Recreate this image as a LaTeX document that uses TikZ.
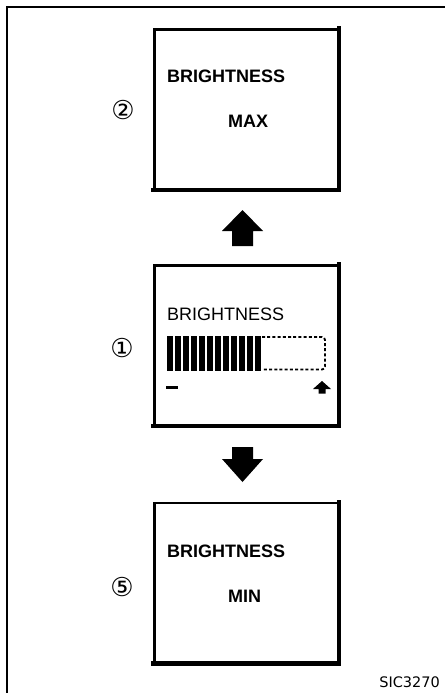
\documentclass[tikz,border=0pt]{standalone}
\usepackage{fontspec}
\setmainfont{Liberation Sans}
\newfontfamily\dejavu{DejaVu Sans}
\begin{document}
\begin{tikzpicture}[x=1pt,y=-1pt,
  screen/.style={draw,line width=2.4pt,minimum width=184pt,minimum height=160pt,inner sep=0pt},
  shadowline/.style={line width=4.4pt,line cap=rect},
  lcd/.style={font=\fontsize{18}{18}\selectfont\bfseries,anchor=base west,inner sep=0pt},
  lcdthin/.style={font=\fontsize{18}{18}\selectfont,anchor=base west,inner sep=0pt},
  num/.style={font=\dejavu\fontsize{26}{26}\selectfont,inner sep=0pt},
  bigarrow/.style={fill=black},
  tag/.style={font=\dejavu\fontsize{14.5}{14.5}\selectfont,anchor=base east,inner sep=0pt}]
\useasboundingbox (0,0) rectangle (445,693);
\fill[white] (0,0) rectangle (445,693);
% outer frame
\coordinate (fbl) at (7,693);
\coordinate (ftl) at (7,7);
\coordinate (ftr) at (445,7);
\draw[line width=2.4pt] (fbl) -- (ftl) -- (ftr);
% screens
\node[screen] (smax) at (246.5,109.5) {};
\node[screen] (scur) at (246.5,345.5) {};
\node[screen] (smin) at (246.5,583) {};
\foreach \s in {smax,scur,smin}{
  \draw[shadowline] ([xshift=-0.5pt]\s.north east) -- ([xshift=-0.5pt,yshift=0.6pt]\s.south east) -- ([yshift=0.6pt]\s.south west);
}
% texts top
\node[lcd] (tmax) at (167,82) {BRIGHTNESS};
\node[lcd] (vmax) at (228,127) {MAX};
\node[num] (n2) at (123,110) {②};
% middle
\node[lcdthin] (tcur) at (167,320) {BRIGHTNESS};
\node[num] (n1) at (122,348) {①};
\foreach \i in {0,...,11}{
  \fill ({167+8*\i},336) rectangle ({172.5+8*\i},371);
}
\coordinate (dA) at (262,337);
\coordinate (dB) at (325,337);
\coordinate (dC) at (325,369.5);
\coordinate (dD) at (262,369.5);
\draw[line width=1.8pt,dash pattern=on 3pt off 2.2pt,rounded corners=3pt] (dA) -- (dB) -- (dC) -- (dD);
\fill (166,385.5) rectangle (178,388.5);
\fill (322,381) -- (331,389) -- (325.5,389) -- (325.5,393.5) -- (318.5,393.5) -- (318.5,389) -- (313,389) -- cycle;
% bottom
\node[lcd] (tmin) at (167,557) {BRIGHTNESS};
\node[lcd] (vmin) at (228,602) {MIN};
\node[num] (n5) at (122,587) {⑤};
% arrows between screens
\coordinate (au) at (242.5,210);
\fill[bigarrow] (au) -- ++(20.5,21) -- ++(-10,0) -- ++(0,15) -- ++(-21,0) -- ++(0,-15) -- ++(-10,0) -- cycle;
\coordinate (ad) at (242.5,482);
\fill[bigarrow] (ad) -- ++(20.5,-23) -- ++(-10,0) -- ++(0,-12) -- ++(-21,0) -- ++(0,12) -- ++(-10,0) -- cycle;
% tag
\node[tag] (code) at (440,687) {SIC3270};
\end{tikzpicture}
\end{document}
